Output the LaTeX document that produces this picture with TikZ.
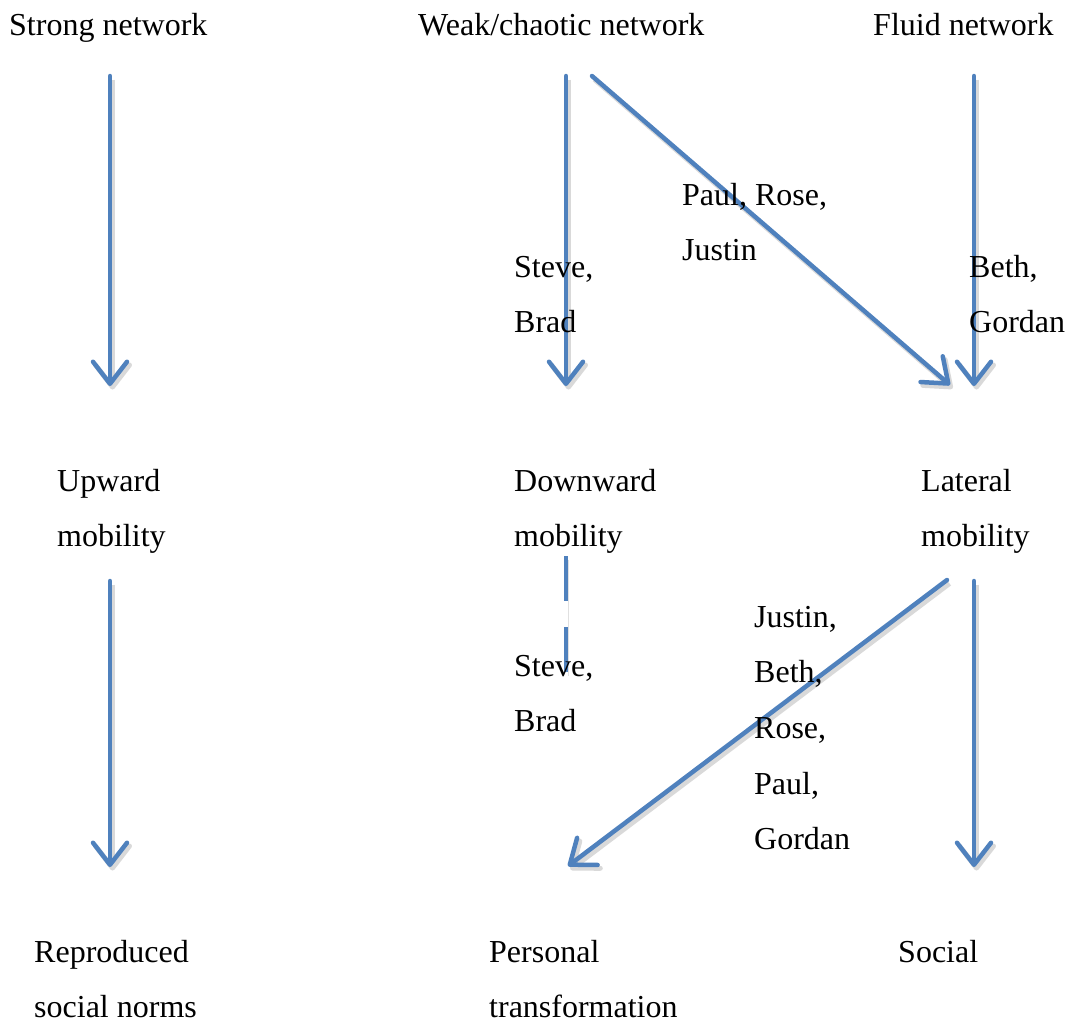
\documentclass[tikz,border=0pt]{standalone}
\usepackage{fontspec}
\setmainfont{Liberation Serif}
\usetikzlibrary{arrows.meta}
\definecolor{arrowblue}{HTML}{4F81BD}
\tikzset{
  lbl/.style={anchor=base west, inner sep=0pt, align=left,
    font=\fontsize{32}{55.7}\selectfont},
  conn/.style={draw=arrowblue, line width=4.5pt, line cap=round,
    -{Straight Barb[length=22pt,width=34pt,line cap=round,line join=round]},
    preaction={draw=black!15, line width=5pt, transform canvas={shift={(2.5pt,-3.5pt)}}}},
  dashconn/.style={draw=arrowblue, line width=4.5pt,
    dash pattern=on 45pt off 26pt,
    preaction={draw=black!12, transform canvas={shift={(2.5pt,-3.5pt)}}}}
}
\begin{document}
\begin{tikzpicture}[x=1pt,y=-1pt]
\useasboundingbox (0,0) rectangle (1069,1021);
% connector end points
\coordinate (a1s) at (110,76);  \coordinate (a1e) at (110,386);
\coordinate (a2s) at (566,76);  \coordinate (a2e) at (566,386);
\coordinate (a3s) at (592,76);  \coordinate (a3e) at (950,385);
\coordinate (a4s) at (974,76);  \coordinate (a4e) at (974,386);
\coordinate (b1s) at (110,581); \coordinate (b1e) at (110,867);
\coordinate (b2s) at (566,556); \coordinate (b2e) at (566,672);
\coordinate (b3s) at (947,580); \coordinate (b3e) at (568,866);
\coordinate (b4s) at (974,581); \coordinate (b4e) at (974,867);
% connectors
\draw[conn] (a1s) -- (a1e);
\draw[conn] (a2s) -- (a2e);
\draw[conn] (a3s) -- (a3e);
\draw[conn] (a4s) -- (a4e);
\draw[conn] (b1s) -- (b1e);
\draw[dashconn] (b2s) -- (b2e);
\draw[conn] (b3s) -- (b3e);
\draw[conn] (b4s) -- (b4e);
% headings (anchor at baseline of last line)
\node[lbl] (strong) at (9,35) {Strong network};
\node[lbl] (weak) at (418,35) {Weak/chaotic network};
\node[lbl] (fluid) at (873,35) {Fluid network};
% names upper
\node[lbl] (pr) at (682,260.7) {Paul, Rose,\\Justin};
\node[lbl] (sb1) at (514,332.7) {Steve,\\Brad};
\node[lbl] (bg) at (969,332.7) {Beth,\\Gordan};
% mobility
\node[lbl] (up) at (57,546.7) {Upward\\mobility};
\node[lbl] (down) at (514,546.7) {Downward\\mobility};
\node[lbl] (lat) at (921,546.7) {Lateral\\mobility};
% names lower
\node[lbl] (jb) at (754,849.8) {Justin,\\Beth,\\Rose,\\Paul,\\Gordan};
\node[lbl] (sb2) at (514,731.7) {Steve,\\Brad};
% outcomes
\node[lbl] (rep) at (34,1017.7) {Reproduced\\social norms};
\node[lbl] (pers) at (489,1017.7) {Personal\\transformation};
\node[lbl] (soc) at (898,962) {Social};
\end{tikzpicture}
\end{document}
